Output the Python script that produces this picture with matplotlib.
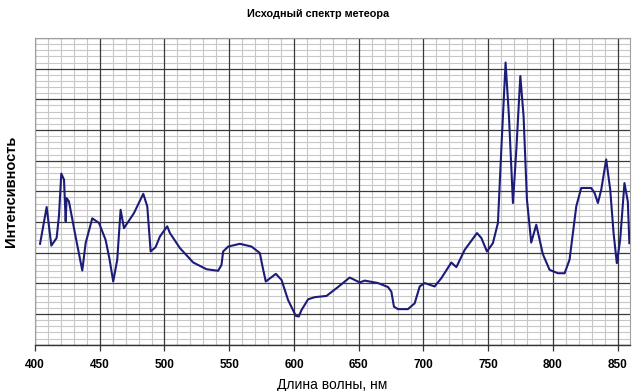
import numpy as np
import matplotlib.pyplot as plt
from matplotlib.ticker import MultipleLocator, NullFormatter

# wavelength (nm) and relative intensity
wavelength = [403.9, 409.0, 412.6, 416.7, 418.5, 420.3, 422.4, 423.7, 424.4, 426.2,
              431.0, 436.5, 439.1, 444.2, 449.4, 454.5, 457.5, 460.4, 463.5, 466.1,
              468.7, 476.4, 483.6, 486.7, 489.3, 493.1, 496.5, 502.1, 504.2, 511.9,
              522.2, 532.5, 541.4, 544.0, 545.3, 549.2, 558.2, 567.2, 573.6, 575.7,
              578.2, 586.0, 590.4, 595.4, 601.4, 603.7, 605.8, 610.9, 616.0, 625.1,
              634.0, 643.0, 650.8, 654.6, 664.9, 672.6, 675.2, 677.2, 680.3, 688.0,
              693.2, 697.1, 700.9, 708.6, 713.8, 721.5, 725.4, 731.8, 741.3, 744.7,
              749.0, 753.6, 757.5, 760.1, 763.4, 766.0, 769.1, 771.7, 774.8, 777.3,
              779.9, 783.2, 787.1, 792.2, 797.4, 803.8, 809.0, 812.8, 818.0, 821.8,
              829.5, 832.1, 834.7, 837.3, 841.1, 844.2, 846.8, 849.3, 851.9, 855.2,
              857.8, 859.0]
intensity = [3.29, 4.49, 3.23, 3.48, 4.20, 5.58, 5.38, 4.02, 4.78, 4.67,
             3.60, 2.42, 3.31, 4.12, 3.97, 3.42, 2.80, 2.06, 2.77, 4.40,
             3.80, 4.29, 4.92, 4.51, 3.04, 3.18, 3.53, 3.86, 3.64, 3.15,
             2.68, 2.46, 2.41, 2.60, 3.04, 3.20, 3.29, 3.20, 2.99, 2.55,
             2.06, 2.31, 2.11, 1.46, 0.94, 0.92, 1.13, 1.48, 1.55, 1.59,
             1.88, 2.19, 2.03, 2.09, 2.01, 1.88, 1.73, 1.24, 1.16, 1.16,
             1.35, 1.90, 2.01, 1.90, 2.17, 2.68, 2.53, 3.09, 3.64, 3.48,
             3.04, 3.31, 3.97, 6.36, 9.20, 7.45, 4.62, 6.36, 8.76, 7.45,
             4.73, 3.33, 3.91, 2.95, 2.44, 2.33, 2.33, 2.77, 4.51, 5.11,
             5.11, 4.95, 4.62, 5.06, 6.04, 5.06, 3.64, 2.66, 3.42, 5.27,
             4.67, 3.31]

xticks = [400, 450, 500, 550, 600, 650, 700, 750, 800, 850]

plt.rcParams['font.family'] = ['Liberation Sans', 'DejaVu Sans']

fig = plt.figure(figsize=(6.4, 3.91), dpi=100)
ax = fig.add_axes([0.0547, 0.1184, 0.9297, 0.7844])

ax.set_xlim(400, 859.5)
ax.set_ylim(0, 10)
ax.xaxis.set_minor_locator(MultipleLocator(10))
ax.yaxis.set_major_locator(MultipleLocator(1))
ax.yaxis.set_minor_locator(MultipleLocator(0.2))
ax.yaxis.set_major_formatter(NullFormatter())
ax.set_xticks(xticks)
ax.set_xticklabels([str(t) for t in xticks], fontsize=8.5, fontweight='bold')

# light minor grid underneath, solid major lines over it
ax.grid(which='minor', color='#c8c8c8', lw=0.8, zorder=0)
for xv in xticks:
    ax.axvline(xv, color='#3a3a3a', lw=0.9, zorder=1)
for yv in ax.get_yticks():
    ax.axhline(yv, color='#3a3a3a', lw=0.9, zorder=1)
ax.set_axisbelow(True)

ax.plot(wavelength, intensity, color='#1c1c78', lw=1.5, zorder=3,
        solid_joinstyle='round')

ax.tick_params(axis='x', which='major', length=4, width=0.9, color='#333333', pad=6)
ax.tick_params(axis='x', which='minor', length=0)
ax.tick_params(axis='y', which='both', length=0)

for s in ['top', 'right', 'left']:
    ax.spines[s].set_color('#a0a0a0')
    ax.spines[s].set_linewidth(0.8)
ax.spines['bottom'].set_color('#333333')
ax.spines['bottom'].set_linewidth(1.0)
ax.spines['bottom'].set_zorder(4)

ax.set_xlabel('Длина волны, нм', fontsize=10, labelpad=5)
ax.set_ylabel('Интенсивность', fontsize=10.5, fontweight='bold', labelpad=9)

fig.text(0.497, 1 - 14 / 391, 'Исходный спектр метеора', ha='center', va='center',
         fontsize=7.8, fontweight='bold')

fig.savefig('out.png', dpi=100)
